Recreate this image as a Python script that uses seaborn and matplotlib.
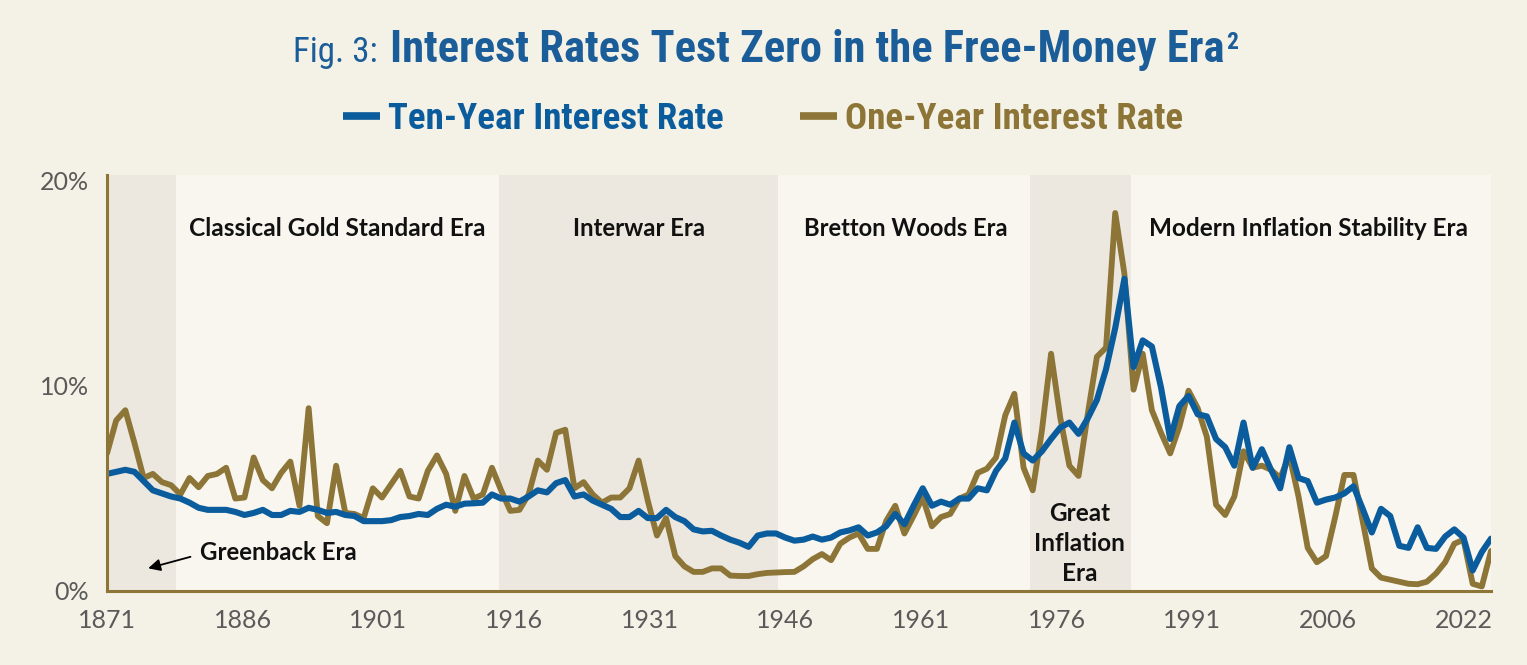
import matplotlib
matplotlib.use('Agg')
import matplotlib.pyplot as plt
from matplotlib import font_manager
import seaborn as sns
import numpy as np
import pandas as pd

sns.set_theme(style='white')

# annual values, 1871-2022
YEARS = list(range(1871, 2023))
TEN_YEAR = [5.7, 5.8, 5.9, 5.8, 5.35, 4.9, 4.75, 4.6, 4.5, 4.3,            # 1871-1880
            4.05, 3.95, 3.95, 3.95, 3.85, 3.7, 3.8, 3.95, 3.7, 3.7,       # 1881-1890
            3.9, 3.85, 4.05, 3.95, 3.8, 3.85, 3.7, 3.65, 3.4, 3.4,        # 1891-1900
            3.4, 3.45, 3.6, 3.65, 3.75, 3.7, 4.0, 4.2, 4.1, 4.25,         # 1901-1910
            4.27, 4.3, 4.7, 4.5, 4.5, 4.35, 4.6, 4.9, 4.8, 5.25,          # 1911-1920
            5.4, 4.6, 4.7, 4.4, 4.2, 4.0, 3.6, 3.6, 3.9, 3.55,            # 1921-1930
            3.55, 3.95, 3.6, 3.4, 3.0, 2.9, 2.93, 2.7, 2.5, 2.35,         # 1931-1940
            2.15, 2.7, 2.8, 2.8, 2.6, 2.45, 2.5, 2.65, 2.5, 2.6,          # 1941-1950
            2.85, 2.95, 3.1, 2.7, 2.85, 3.15, 3.75, 3.25, 4.15, 5.0,      # 1951-1960
            4.15, 4.35, 4.2, 4.5, 4.5, 5.0, 4.9, 5.85, 6.45, 8.2,         # 1961-1970
            6.7, 6.35, 6.8, 7.4, 7.95, 8.2, 7.65, 8.4, 9.3, 10.8,         # 1971-1980
            12.8, 15.2, 10.9, 12.2, 11.9, 9.9, 7.4, 9.0, 9.5, 8.6,        # 1981-1990
            8.5, 7.4, 7.0, 6.1, 8.2, 6.0, 6.9, 5.9, 5.0, 7.0,             # 1991-2000
            5.5, 5.35, 4.3, 4.45, 4.55, 4.75, 5.1, 4.0, 2.85, 4.0,        # 2001-2010
            3.65, 2.2, 2.1, 3.1, 2.1, 2.05, 2.65, 3.0, 2.6, 1.0,          # 2011-2020
            1.9, 2.55]                                                    # 2021-2022
ONE_YEAR = [6.7, 8.3, 8.8, 7.2, 5.5, 5.7, 5.3, 5.15, 4.7, 5.5,            # 1871-1880
            5.05, 5.6, 5.7, 6.0, 4.5, 4.55, 6.5, 5.4, 5.0, 5.75,          # 1881-1890
            6.3, 4.15, 8.9, 3.65, 3.3, 6.1, 3.8, 3.75, 3.55, 5.0,         # 1891-1900
            4.55, 5.2, 5.85, 4.6, 4.5, 5.85, 6.6, 5.7, 3.9, 5.6,          # 1901-1910
            4.5, 4.7, 6.0, 4.9, 3.9, 3.95, 4.7, 6.35, 5.9, 7.7,           # 1911-1920
            7.85, 5.0, 5.3, 4.7, 4.3, 4.55, 4.55, 5.0, 6.35, 4.4,         # 1921-1930
            2.7, 3.55, 1.7, 1.2, 0.93, 0.93, 1.1, 1.1, 0.75, 0.73,        # 1931-1940
            0.73, 0.82, 0.88, 0.9, 0.92, 0.93, 1.2, 1.55, 1.8, 1.5,       # 1941-1950
            2.3, 2.6, 2.8, 2.05, 2.05, 3.4, 4.15, 2.8, 3.65, 4.55,        # 1951-1960
            3.15, 3.6, 3.75, 4.5, 4.7, 5.75, 5.95, 6.5, 8.55, 9.6,        # 1961-1970
            6.0, 4.9, 7.8, 11.55, 8.45, 6.1, 5.6, 8.6, 11.4, 11.85,       # 1971-1980
            18.4, 15.45, 9.8, 11.55, 8.8, 7.7, 6.7, 8.0, 9.75, 8.9,       # 1981-1990
            7.5, 4.2, 3.7, 4.6, 6.8, 6.0, 6.1, 5.9, 5.5, 6.6,             # 1991-2000
            4.6, 2.1, 1.4, 1.7, 3.6, 5.65, 5.65, 3.4, 1.1, 0.65,          # 2001-2010
            0.55, 0.45, 0.35, 0.33, 0.45, 0.85, 1.4, 2.3, 2.5, 0.35,      # 2011-2020
            0.22, 1.95]                                                   # 2021-2022
XTICK_LABELS = ['1871', '1886', '1901', '1916', '1931', '1946', '1961',
                '1976', '1991', '2006', '2022']
YTICKS = [0, 10, 20]

df = pd.DataFrame({'year': YEARS, 'ten': TEN_YEAR, 'one': ONE_YEAR})

BLUE = '#0b5c9d'
GOLD = '#8c7536'
TITLE_BLUE = '#1b5d98'
BG = '#f4f1e6'
PANEL = '#f8f6ef'
SHADE = '#ece8df'

names = {f.name for f in font_manager.fontManager.ttflist}
COND = next((n for n in ['Liberation Sans Narrow', 'Roboto Condensed', 'Roboto'] if n in names), 'DejaVu Sans')
plt.rcParams['font.family'] = ['Lato', 'DejaVu Sans']

W, H = 1527, 665
fig = plt.figure(figsize=(W / 100, H / 100), dpi=100, facecolor=BG)
ax = fig.add_axes([107 / W, 1 - 591 / H, (1491 - 107) / W, (591 - 175) / H])
ax.set_facecolor(PANEL)
r = fig.canvas.get_renderer()


def fit_width(txt, target):
    w = txt.get_window_extent(renderer=r).width
    txt.set_fontsize(txt.get_fontsize() * target / w)
    return txt


# shaded eras: Greenback, Interwar, Great Inflation
for a, b in [(1871, 1878.5), (1913.8, 1944.2), (1971.7, 1982.7)]:
    ax.axvspan(a, b, color=SHADE, lw=0, zorder=0)

sns.lineplot(x='year', y='one', data=df, color=GOLD, lw=4.2, ax=ax,
             label='One-Year Interest Rate', zorder=3)
sns.lineplot(x='year', y='ten', data=df, color=BLUE, lw=4.4, ax=ax,
             label='Ten-Year Interest Rate', zorder=4)
ax.get_legend().remove()

ax.set_xlim(YEARS[0], YEARS[-1])
ax.set_ylim(0, 20.25)
ax.set_xlabel('')
ax.set_ylabel('')
# labels in the original sit evenly, the last one a few years short of the end
ax.set_xticks(np.linspace(YEARS[0], YEARS[-1] - 3, len(XTICK_LABELS)))
ax.set_xticklabels(XTICK_LABELS)
ax.set_yticks(YTICKS)
ax.set_yticklabels([f'{v}%' for v in YTICKS])
ax.tick_params(length=0, labelsize=18, labelcolor='#5a5a5a')
ax.tick_params(axis='x', pad=13)
ax.tick_params(axis='y', pad=13)
for s in ['top', 'right']:
    ax.spines[s].set_visible(False)
for s in ['left', 'bottom']:
    ax.spines[s].set_color(GOLD)
    ax.spines[s].set_linewidth(2.2)
    ax.spines[s].set_zorder(5)

# era labels
lab = dict(fontweight='bold', color='#111111', ha='center', va='center', fontsize=18, zorder=6)
fit_width(ax.text(1896.1, 17.66, 'Classical Gold Standard Era', **lab), 298)
fit_width(ax.text(1929.0, 17.66, 'Interwar Era', **lab), 132)
fit_width(ax.text(1958.2, 17.66, 'Bretton Woods Era', **lab), 204)
fit_width(ax.text(2002.1, 17.66, 'Modern Inflation Stability Era', **lab), 319)
fit_width(ax.text(1977.1, 2.3, 'Great\nInflation\nEra', linespacing=1.38, **lab), 91)
gb = ax.text(1881.2, 1.85, 'Greenback Era', **{**lab, 'ha': 'left'})
fit_width(gb, 157)
ax.annotate('', xy=(1875.2, 1.07), xytext=(1880.4, 1.7),
            arrowprops=dict(arrowstyle='-|>', color='black', lw=1.3, mutation_scale=18))

# title, built from pieces
t1 = fig.text(293 / W, 1 - 62 / H, 'Fig. 3:', family=COND, color=TITLE_BLUE,
              fontsize=28, va='baseline', ha='left')
fit_width(t1, 85)
t2 = fig.text(390 / W, 1 - 62 / H, 'Interest Rates Test Zero in the Free-Money Era',
              family=COND, fontweight='bold', color=TITLE_BLUE, fontsize=28,
              va='baseline', ha='left')
fit_width(t2, 835)
x_end = t2.get_window_extent(renderer=r).x1
fig.text((x_end + 2) / W, 1 - 49 / H, '2', family=COND, fontweight='bold',
         color=TITLE_BLUE, fontsize=17, va='baseline', ha='left')

# legend
probe = fig.text(0, 0, 'Ten-Year Interest Rate', family=COND, fontweight='bold', fontsize=20)
fs = 20 * 334 / probe.get_window_extent(renderer=r).width
probe.remove()
fpx = fs * 100 / 72
lines = ax.get_lines()
leg = fig.legend(handles=[lines[1], lines[0]],
                 labels=['Ten-Year Interest Rate', 'One-Year Interest Rate'],
                 loc='center', bbox_to_anchor=(763 / W, 1 - 119 / H), ncol=2,
                 frameon=False, handlelength=37 / fpx, handletextpad=8 / fpx,
                 columnspacing=76 / fpx, borderpad=0, borderaxespad=0,
                 prop=dict(family=COND, weight='bold', size=fs))
for t, c in zip(leg.get_texts(), [BLUE, GOLD]):
    t.set_color(c)
for h in leg.legend_handles:
    h.set_linewidth(5.5)
    h.set_solid_capstyle('butt')

fig.savefig('out.png', dpi=100, facecolor=BG)
